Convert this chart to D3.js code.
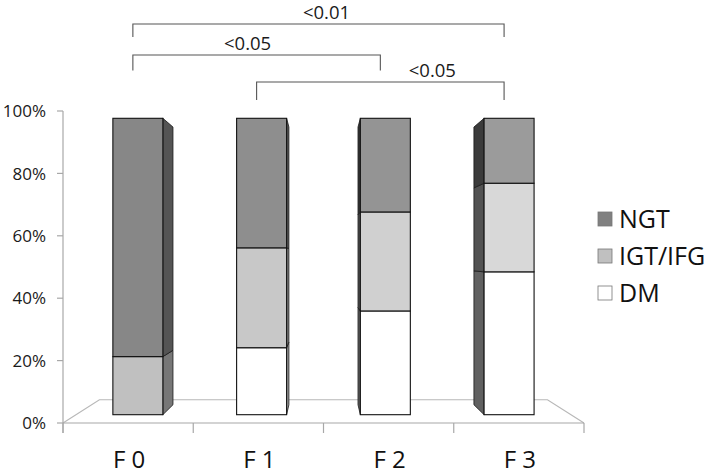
<!DOCTYPE html>
<html><head><meta charset="utf-8">
<script src="https://cdn.jsdelivr.net/npm/d3@7"></script>
<style>body{margin:0;background:#fff}svg{display:block}</style>
</head><body>
<svg id="chart" width="711" height="475"></svg>
<script>
// ---- data ----
const categories = ["F 0", "F 1", "F 2", "F 3"];
const seriesKeys = ["DM", "IGT/IFG", "NGT"];
const dmValues  = [0, 22.6, 35.0, 48.2];
const igtValues = [19.6, 33.7, 33.4, 29.9];
const ngtValues = [80.4, 43.7, 31.6, 21.9];
const yTickValues = [0, 20, 40, 60, 80, 100];
const yTickLabels = ["0%", "20%", "40%", "60%", "80%", "100%"];
const legendOrder = ["NGT", "IGT/IFG", "DM"];
const compFrom   = ["F 0", "F 0", "F 1"];
const compTo     = ["F 3", "F 2", "F 3"];
const compLabels = ["<0.01", "<0.05", "<0.05"];

// ---- layout / style ----
const FONT = "'Open Sans', 'Noto Sans', sans-serif";
const svg = d3.select("#chart");
const VX = 323, VY = 257;           // vanishing point of the 3D view
const S_FRONT = 0.95, S_BACK = 0.89; // depth scale of bar front/back faces
const S_FLOOR = 0.86;
const proj = (px, py, s) => [VX + (px - VX) * s, VY + (py - VY) * s];

const x = d3.scaleBand().domain(categories).range([63, 584]);
const y = d3.scaleLinear().domain([0, 100]).range([423, 111]);
const barW = x.bandwidth() * 0.404;

const table = categories.map((c, i) => ({cat: c, "DM": dmValues[i], "IGT/IFG": igtValues[i], "NGT": ngtValues[i]}));
const stacked = d3.stack().keys(seriesKeys)(table);

const baseGray = {"NGT": 0x87, "IGT/IFG": 0xc0, "DM": 0xff};
const gradStep = {"NGT": 6.5, "IGT/IFG": 8, "DM": 0};
const gray = v => { v = Math.max(0, Math.min(255, Math.round(v))); return d3.rgb(v, v, v).toString(); };
const frontColor = (k, i) => gray(baseGray[k] + gradStep[k] * i);

// floor
const f0 = proj(x.range()[0], y(0), 1), f1 = proj(x.range()[1], y(0), 1);
const b0 = proj(x.range()[0], y(0), S_FLOOR), b1 = proj(x.range()[1], y(0), S_FLOOR);
svg.append("path")
  .attr("d", `M${f0}L${b0}L${b1}L${f1}`)
  .attr("fill", "none").attr("stroke", "#b8b8b8").attr("stroke-width", 1.2);

// axes
const gy = svg.append("g");
gy.append("line").attr("x1", 63).attr("x2", 63).attr("y1", y(100)).attr("y2", y(0) + 10)
  .attr("stroke", "#a8a8a8").attr("stroke-width", 1.2);
yTickValues.forEach((v, i) => {
  gy.append("line").attr("x1", 57).attr("x2", 63).attr("y1", y(v)).attr("y2", y(v))
    .attr("stroke", "#a8a8a8").attr("stroke-width", 1.2);
  gy.append("text").attr("x", 46).attr("y", y(v)).attr("dy", "0.36em")
    .attr("text-anchor", "end").attr("font-family", FONT).attr("font-size", 17)
    .attr("fill", "#1a1a1a").text(yTickLabels[i]);
});
const gx = svg.append("g");
gx.append("line").attr("x1", x.range()[0]).attr("x2", x.range()[1]).attr("y1", y(0)).attr("y2", y(0))
  .attr("stroke", "#a8a8a8").attr("stroke-width", 1.2);
[...categories.map(c => x(c)), x.range()[1]].forEach(px => {
  gx.append("line").attr("x1", px).attr("x2", px).attr("y1", y(0)).attr("y2", y(0) + 10)
    .attr("stroke", "#a8a8a8").attr("stroke-width", 1.2);
});
categories.forEach(c => {
  gx.append("text").attr("x", x(c) + x.bandwidth() / 2 + 1).attr("y", 468)
    .attr("text-anchor", "middle").attr("font-family", FONT).attr("font-size", 24)
    .attr("fill", "#111").attr("xml:space", "preserve").text(c);
});

// bars
const gb = svg.append("g");
categories.forEach((c, i) => {
  const cx = x(c) + x.bandwidth() / 2;
  const xl = cx - barW / 2, xr = cx + barW / 2;
  const frontR = proj(xr, 0, S_FRONT)[0];
  const sideRight = frontR < VX;
  const ex = sideRight ? xr : xl;
  stacked.forEach(layer => {
    const d = layer[i];
    if (d[1] - d[0] <= 0) return;
    const k = layer.key;
    const col = frontColor(k, i);
    // side face
    const p1 = proj(ex, y(d[0]), S_FRONT), p2 = proj(ex, y(d[1]), S_FRONT);
    const p3 = proj(ex, y(d[1]), S_BACK),  p4 = proj(ex, y(d[0]), S_BACK);
    const base = baseGray[k] + gradStep[k] * i;
    const sideCol = sideRight ? gray(base * 0.62) : gray(base * 0.38);
    gb.append("path").attr("d", `M${p1}L${p2}L${p3}L${p4}Z`)
      .attr("fill", sideCol).attr("stroke", "#1a1a1a").attr("stroke-width", 0.8)
      .attr("stroke-linejoin", "round");
    // front face
    const a = proj(xl, y(d[1]), S_FRONT), b = proj(xr, y(d[0]), S_FRONT);
    gb.append("rect").attr("x", a[0]).attr("y", a[1])
      .attr("width", b[0] - a[0]).attr("height", b[1] - a[1])
      .attr("fill", col).attr("stroke", "#111").attr("stroke-width", 1.1);
  });
});

// significance brackets
const gs = svg.append("g");
const frontCenter = c => proj(x(c) + x.bandwidth() / 2, 0, S_FRONT)[0];
const levels = [24, 55, 82];
const labelShift = [8, -9, 52];
compLabels.forEach((lab, i) => {
  const xa = frontCenter(compFrom[i]) - 5, xb = frontCenter(compTo[i]) - 5;
  const ly = levels[i], leg = 13 + i * 2.5;
  gs.append("path").attr("d", `M${xa},${ly + leg}V${ly}H${xb}V${ly + leg}`)
    .attr("fill", "none").attr("stroke", "#555").attr("stroke-width", 1.1);
  gs.append("text").attr("x", (xa + xb) / 2 + labelShift[i]).attr("y", ly - 5)
    .attr("text-anchor", "middle").attr("font-family", FONT).attr("font-size", 18.5)
    .attr("fill", "#1a1a1a").text(lab);
});

// legend
const gl = svg.append("g");
const legendFill = {"NGT": "#808080", "IGT/IFG": "#c0c0c0", "DM": "#ffffff"};
legendOrder.forEach((k, i) => {
  const ly = 219 + i * 37;
  gl.append("rect").attr("x", 598).attr("y", ly - 7).attr("width", 14).attr("height", 14)
    .attr("fill", legendFill[k]).attr("stroke", "#777").attr("stroke-width", 0.8);
  gl.append("text").attr("x", 619).attr("y", ly).attr("dy", "0.36em")
    .attr("font-family", FONT).attr("font-size", 25).attr("fill", "#111").text(k);
});
</script>
</body></html>
